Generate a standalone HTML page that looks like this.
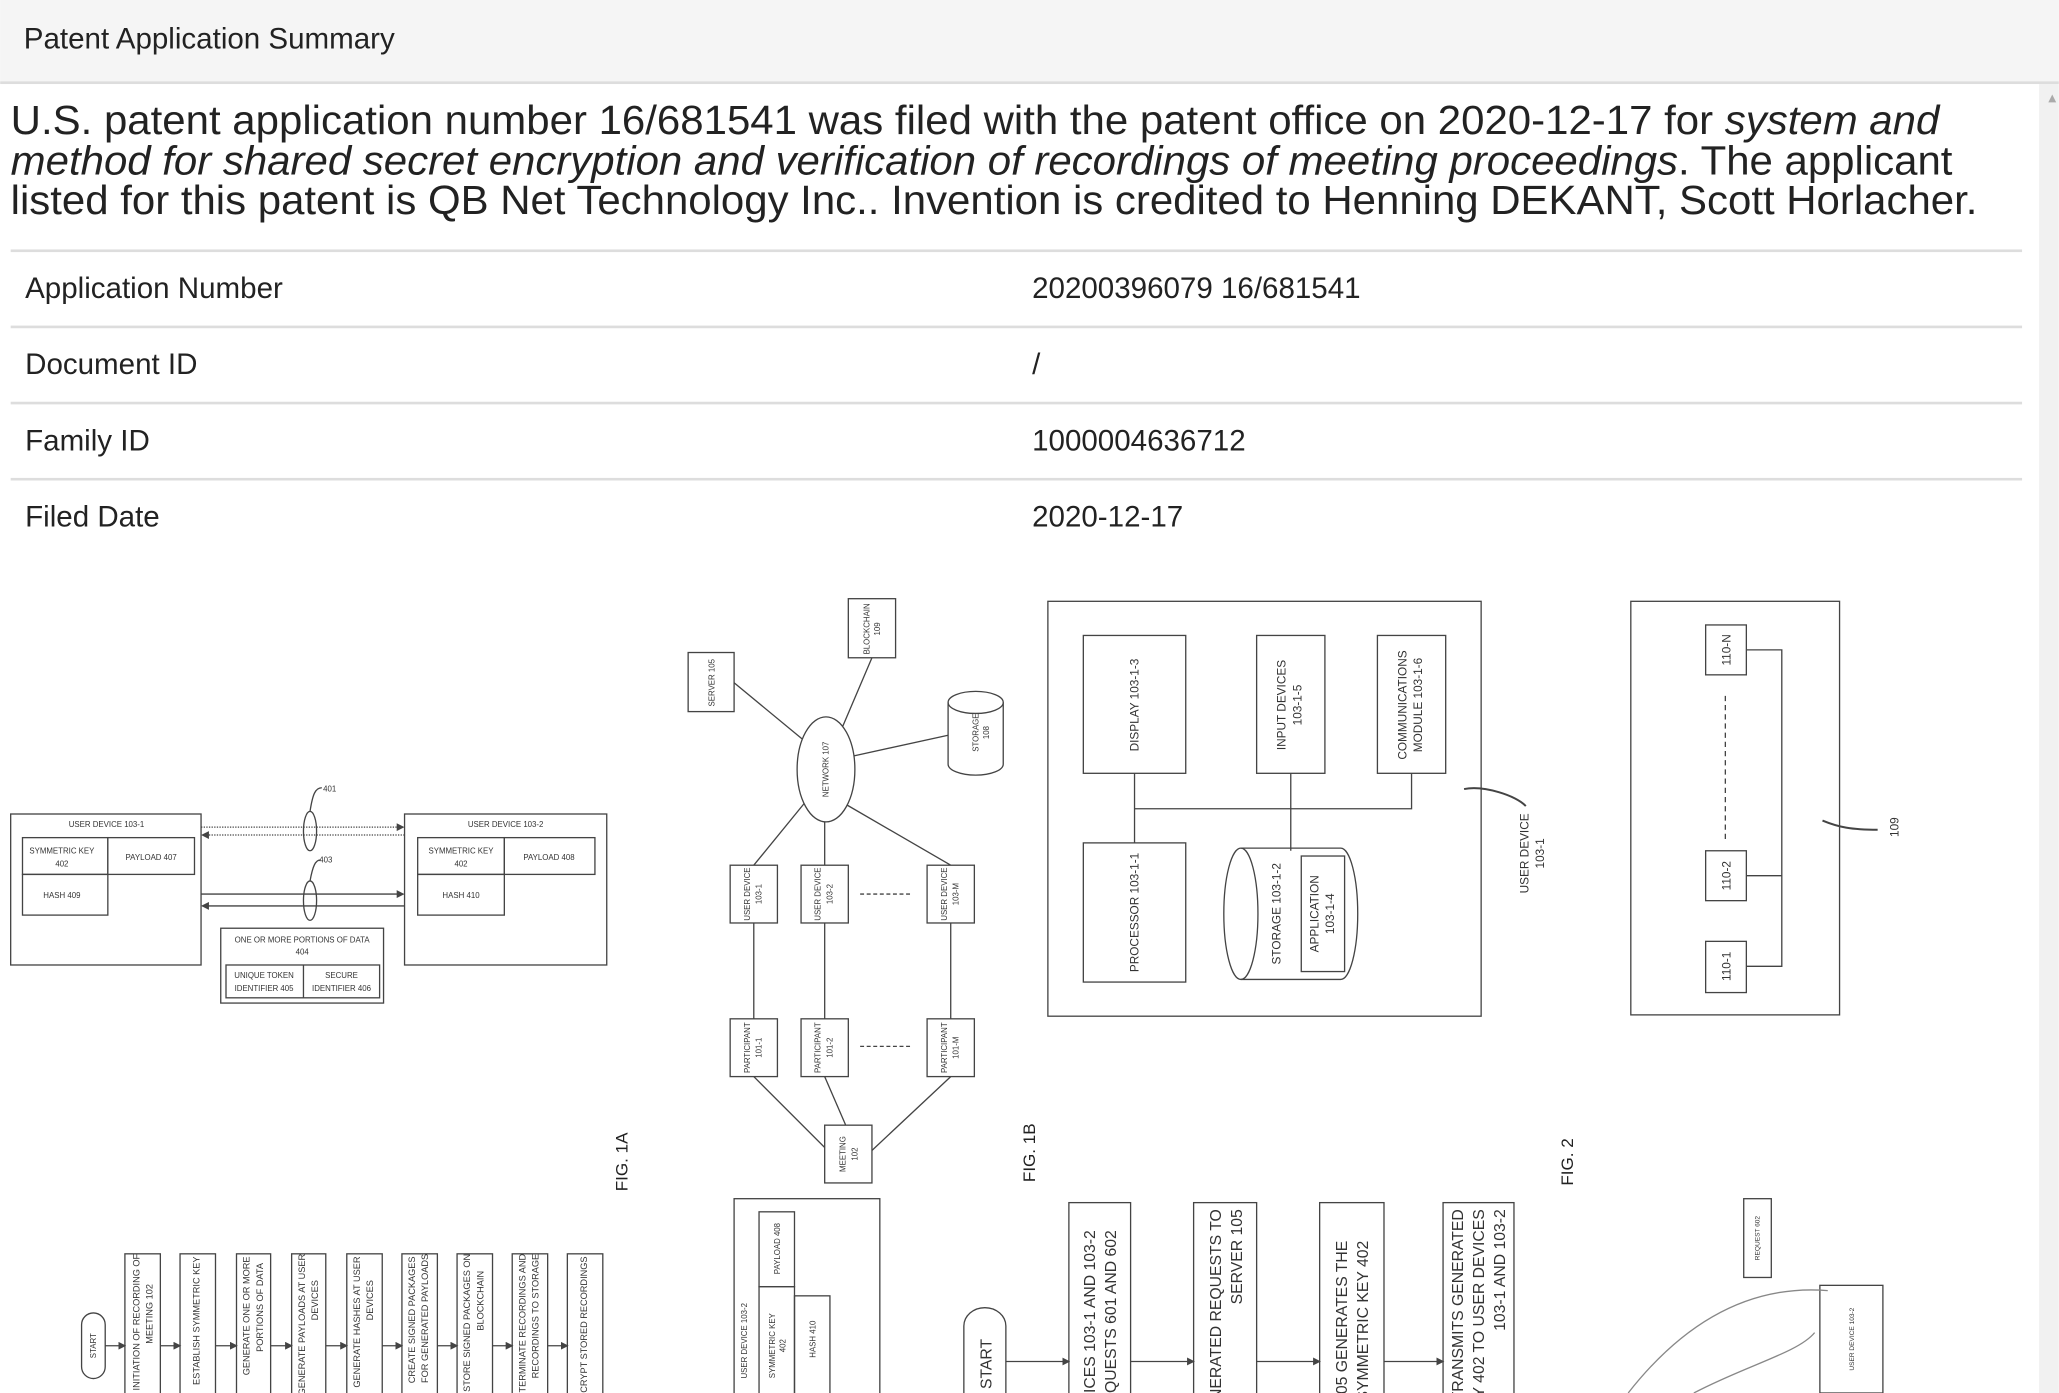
<!DOCTYPE html>
<html><head><meta charset="utf-8"><style>
html,body{margin:0;padding:0;background:#fff;width:2059px;height:1393px;overflow:hidden;position:relative}
svg{display:block;position:absolute;left:0;top:0}
text{font-family:"Liberation Sans",sans-serif;fill:#222}
.d text{fill:#333;font-size:6px}
.d rect,.d ellipse,.d path,.d line{stroke:#444;stroke-width:1;fill:none}
</style></head><body>
<svg width="2059" height="1393" viewBox="0 0 1568 1061" xmlns="http://www.w3.org/2000/svg" overflow="hidden">
<defs><marker id="a" markerWidth="6" markerHeight="6" refX="5" refY="3" orient="auto" markerUnits="userSpaceOnUse"><path d="M0 0 L6 3 L0 6Z" fill="#444"/></marker></defs>
<rect x="0" y="0" width="1568" height="63" fill="#f5f5f5"/>
<rect x="0" y="62" width="1568" height="2" fill="#ddd"/>
<rect x="1553" y="64" width="15" height="997" fill="#f1f1f1"/>
<path d="M1560 78 L1563 72 L1566 78Z" fill="#aaa"/>
<text x="18" y="37" font-size="22.5" fill="#333">Patent Application Summary</text>
<text x="8" y="102" font-size="31" textLength="1469" lengthAdjust="spacingAndGlyphs">U.S. patent application number 16/681541 was filed with the patent office on 2020-12-17 for <tspan font-style="italic">system and</tspan></text>
<text x="8" y="133" font-size="31" textLength="1479" lengthAdjust="spacingAndGlyphs"><tspan font-style="italic">method for shared secret encryption and verification of recordings of meeting proceedings</tspan>. The applicant</text>
<text x="8" y="163" font-size="31" textLength="1498" lengthAdjust="spacingAndGlyphs">listed for this patent is QB Net Technology Inc.. Invention is credited to Henning DEKANT, Scott Horlacher.</text>
<g fill="#ddd"><rect x="8" y="190" width="1532" height="2"/><rect x="8" y="248" width="1532" height="2"/><rect x="8" y="306" width="1532" height="2"/><rect x="8" y="364" width="1532" height="2"/></g>
<g font-size="22.5"><text x="19" y="227">Application Number</text><text x="786" y="227">20200396079 16/681541</text>
<text x="19" y="285">Document ID</text><text x="786" y="285">/</text>
<text x="19" y="343">Family ID</text><text x="786" y="343">1000004636712</text>
<text x="19" y="401">Filed Date</text><text x="786" y="401">2020-12-17</text></g>

<g class="d">
<!-- FIG 1A -->
<rect x="8" y="620" width="145" height="115"/>
<text x="81" y="630" text-anchor="middle">USER DEVICE 103-1</text>
<rect x="17" y="638" width="65" height="28"/><rect x="82" y="638" width="66" height="28"/><rect x="17" y="666" width="65" height="31"/>
<text x="47" y="650" text-anchor="middle">SYMMETRIC KEY</text><text x="47" y="660" text-anchor="middle">402</text>
<text x="115" y="655" text-anchor="middle">PAYLOAD 407</text><text x="47" y="684" text-anchor="middle">HASH 409</text>
<rect x="308" y="620" width="154" height="115"/>
<text x="385" y="630" text-anchor="middle">USER DEVICE 103-2</text>
<rect x="318" y="638" width="66" height="28"/><rect x="384" y="638" width="69" height="28"/><rect x="318" y="666" width="66" height="31"/>
<text x="351" y="650" text-anchor="middle">SYMMETRIC KEY</text><text x="351" y="660" text-anchor="middle">402</text>
<text x="418" y="655" text-anchor="middle">PAYLOAD 408</text><text x="351" y="684" text-anchor="middle">HASH 410</text>
<line x1="153" y1="630" x2="307" y2="630" stroke-dasharray="1 1" marker-end="url(#a)"/><line x1="308" y1="636" x2="154" y2="636" stroke-dasharray="1 1" marker-end="url(#a)"/>
<line x1="153" y1="681" x2="307" y2="681" marker-end="url(#a)"/><line x1="308" y1="690" x2="154" y2="690" marker-end="url(#a)"/>
<ellipse cx="236" cy="633" rx="5" ry="15"/><ellipse cx="236" cy="686" rx="5" ry="15"/>
<path d="M236 618 C238 605 240 600 245 600"/><path d="M236 671 C238 660 240 655 244 655"/>
<text x="246" y="603">401</text><text x="243" y="657">403</text>
<rect x="168" y="707" width="124" height="57"/>
<text x="230" y="718" text-anchor="middle">ONE OR MORE PORTIONS OF DATA</text><text x="230" y="727" text-anchor="middle">404</text>
<rect x="172" y="735" width="117" height="25"/><line x1="231" y1="735" x2="231" y2="760"/>
<text x="201" y="745" text-anchor="middle">UNIQUE TOKEN</text><text x="201" y="755" text-anchor="middle">IDENTIFIER 405</text>
<text x="260" y="745" text-anchor="middle">SECURE</text><text x="260" y="755" text-anchor="middle">IDENTIFIER 406</text>
<text transform="translate(478,885) rotate(-90)" text-anchor="middle" style="font-size:13px;fill:#222">FIG. 1A</text>

<!-- network -->
<g>
<line x1="559" y1="520" x2="611" y2="563"/><line x1="664" y1="501" x2="641" y2="555"/><line x1="649" y1="576" x2="722" y2="560"/>
<line x1="614" y1="610" x2="574" y2="659"/><line x1="628" y1="626" x2="628" y2="659"/><line x1="643" y1="612" x2="724" y2="659"/>
<line x1="574" y1="703" x2="574" y2="776"/><line x1="628" y1="703" x2="628" y2="776"/><line x1="724" y1="703" x2="724" y2="776"/>
<line x1="574" y1="820" x2="634" y2="880"/><line x1="628" y1="820" x2="644" y2="857"/><line x1="724" y1="820" x2="660" y2="880"/>
<line x1="655" y1="681" x2="695" y2="681" stroke-dasharray="3 2"/><line x1="655" y1="797" x2="695" y2="797" stroke-dasharray="3 2"/>
</g>
<rect x="524" y="497" width="35" height="45" style="fill:#fff"/><text transform="translate(544,520) rotate(-90)" text-anchor="middle">SERVER 105</text>
<rect x="646" y="456" width="36" height="45" style="fill:#fff"/><text transform="translate(662,479) rotate(-90)" text-anchor="middle">BLOCKCHAIN</text><text transform="translate(670,479) rotate(-90)" text-anchor="middle">109</text>
<ellipse cx="629" cy="586" rx="22" ry="40" style="fill:#fff"/><text transform="translate(631,586) rotate(-90)" text-anchor="middle">NETWORK 107</text>
<path d="M722 535 A20 8 0 0 1 764 535 L764 582 A20 8 0 0 1 722 582 Z"/><path d="M722 535 A20 8 0 0 0 764 535"/>
<text transform="translate(745,558) rotate(-90)" text-anchor="middle">STORAGE</text><text transform="translate(753,558) rotate(-90)" text-anchor="middle">108</text>
<g>
<rect x="556" y="659" width="36" height="44" style="fill:#fff"/><text transform="translate(571,681) rotate(-90)" text-anchor="middle">USER DEVICE</text><text transform="translate(580,681) rotate(-90)" text-anchor="middle">103-1</text>
<rect x="610" y="659" width="36" height="44" style="fill:#fff"/><text transform="translate(625,681) rotate(-90)" text-anchor="middle">USER DEVICE</text><text transform="translate(634,681) rotate(-90)" text-anchor="middle">103-2</text>
<rect x="706" y="659" width="36" height="44" style="fill:#fff"/><text transform="translate(721,681) rotate(-90)" text-anchor="middle">USER DEVICE</text><text transform="translate(730,681) rotate(-90)" text-anchor="middle">103-M</text>
<rect x="556" y="776" width="36" height="44" style="fill:#fff"/><text transform="translate(571,798) rotate(-90)" text-anchor="middle">PARTICIPANT</text><text transform="translate(580,798) rotate(-90)" text-anchor="middle">101-1</text>
<rect x="610" y="776" width="36" height="44" style="fill:#fff"/><text transform="translate(625,798) rotate(-90)" text-anchor="middle">PARTICIPANT</text><text transform="translate(634,798) rotate(-90)" text-anchor="middle">101-2</text>
<rect x="706" y="776" width="36" height="44" style="fill:#fff"/><text transform="translate(721,798) rotate(-90)" text-anchor="middle">PARTICIPANT</text><text transform="translate(730,798) rotate(-90)" text-anchor="middle">101-M</text>
<rect x="628" y="857" width="36" height="44" style="fill:#fff"/><text transform="translate(644,879) rotate(-90)" text-anchor="middle">MEETING</text><text transform="translate(653,879) rotate(-90)" text-anchor="middle">102</text>
</g>
<text transform="translate(788,878) rotate(-90)" text-anchor="middle" style="font-size:13px;fill:#222">FIG. 1B</text>

<!-- device -->
<rect x="798" y="458" width="330" height="316"/>
<rect x="825" y="484" width="78" height="105"/><text transform="translate(867,537) rotate(-90)" text-anchor="middle" style="font-size:9px">DISPLAY 103-1-3</text>
<rect x="957" y="484" width="52" height="105"/><text transform="translate(979,537) rotate(-90)" text-anchor="middle" style="font-size:9px">INPUT DEVICES</text><text transform="translate(991,537) rotate(-90)" text-anchor="middle" style="font-size:9px">103-1-5</text>
<rect x="1049" y="484" width="52" height="105"/><text transform="translate(1071,537) rotate(-90)" text-anchor="middle" style="font-size:9px">COMMUNICATIONS</text><text transform="translate(1083,537) rotate(-90)" text-anchor="middle" style="font-size:9px">MODULE 103-1-6</text>
<rect x="825" y="642" width="78" height="106"/><text transform="translate(867,695) rotate(-90)" text-anchor="middle" style="font-size:9px">PROCESSOR 103-1-1</text>
<path d="M864 589 V642 M864 616 H1075 V589 M983 589 V648"/>
<path d="M945 646 H1021 A13 50 0 0 1 1021 746 H945 A13 50 0 0 1 945 646 Z"/><path d="M945 646 A13 50 0 0 1 945 746"/>
<text transform="translate(975,696) rotate(-90)" text-anchor="middle" style="font-size:9px">STORAGE 103-1-2</text>
<rect x="991" y="652" width="33" height="88"/><text transform="translate(1004,696) rotate(-90)" text-anchor="middle" style="font-size:9px">APPLICATION</text><text transform="translate(1016,696) rotate(-90)" text-anchor="middle" style="font-size:9px">103-1-4</text>
<path d="M1115 601 C1130 598 1155 606 1162 614" style="stroke-width:1.5"/>
<text transform="translate(1164,650) rotate(-90)" text-anchor="middle" style="font-size:9px">USER DEVICE</text><text transform="translate(1176,650) rotate(-90)" text-anchor="middle" style="font-size:9px">103-1</text>

<!-- FIG 2 box -->
<rect x="1242" y="458" width="159" height="315"/>
<rect x="1299" y="476" width="31" height="38"/><text transform="translate(1318,495) rotate(-90)" text-anchor="middle" style="font-size:9px">110-N</text>
<rect x="1299" y="648" width="31" height="38"/><text transform="translate(1318,667) rotate(-90)" text-anchor="middle" style="font-size:9px">110-2</text>
<rect x="1299" y="717" width="31" height="39"/><text transform="translate(1318,736) rotate(-90)" text-anchor="middle" style="font-size:9px">110-1</text>
<path d="M1330 495 H1357 V736 H1330 M1330 667 H1357"/>
<line x1="1314" y1="530" x2="1314" y2="640" stroke-dasharray="4 3"/>
<path d="M1388 625 C1400 630 1410 632 1430 632" style="stroke-width:1.5"/>
<text transform="translate(1446,630) rotate(-90)" text-anchor="middle" style="font-size:9px">109</text>
<text transform="translate(1198,885) rotate(-90)" text-anchor="middle" style="font-size:13px;fill:#222">FIG. 2</text>

<!-- flow bottom left -->
<rect x="62" y="1000" width="18" height="50" rx="9"/><text transform="translate(73,1025) rotate(-90)" text-anchor="middle">START</text>
<g style="font-size:7px">
<rect x="95" y="955" width="27" height="120"/><text transform="translate(106,955) rotate(-90)" text-anchor="end" style="font-size:7px">INITIATION OF RECORDING OF</text><text transform="translate(116,978) rotate(-90)" text-anchor="end" style="font-size:7px">MEETING 102</text>
<rect x="137" y="955" width="27" height="120"/><text transform="translate(152,957) rotate(-90)" text-anchor="end" style="font-size:7px">ESTABLISH SYMMETRIC KEY</text>
<rect x="180" y="955" width="26" height="120"/><text transform="translate(190,957) rotate(-90)" text-anchor="end" style="font-size:7px">GENERATE ONE OR MORE</text><text transform="translate(200,962) rotate(-90)" text-anchor="end" style="font-size:7px">PORTIONS OF DATA</text>
<rect x="222" y="955" width="26" height="120"/><text transform="translate(232,955) rotate(-90)" text-anchor="end" style="font-size:7px">GENERATE PAYLOADS AT USER</text><text transform="translate(242,975) rotate(-90)" text-anchor="end" style="font-size:7px">DEVICES</text>
<rect x="264" y="955" width="27" height="120"/><text transform="translate(274,957) rotate(-90)" text-anchor="end" style="font-size:7px">GENERATE HASHES AT USER</text><text transform="translate(284,975) rotate(-90)" text-anchor="end" style="font-size:7px">DEVICES</text>
<rect x="306" y="955" width="27" height="120"/><text transform="translate(316,957) rotate(-90)" text-anchor="end" style="font-size:7px">CREATE SIGNED PACKAGES</text><text transform="translate(326,955) rotate(-90)" text-anchor="end" style="font-size:7px">FOR GENERATED PAYLOADS</text>
<rect x="348" y="955" width="27" height="120"/><text transform="translate(358,955) rotate(-90)" text-anchor="end" style="font-size:7px">STORE SIGNED PACKAGES ON</text><text transform="translate(368,968) rotate(-90)" text-anchor="end" style="font-size:7px">BLOCKCHAIN</text>
<rect x="390" y="955" width="27" height="120"/><text transform="translate(400,955) rotate(-90)" text-anchor="end" style="font-size:7px">TERMINATE RECORDINGS AND</text><text transform="translate(410,955) rotate(-90)" text-anchor="end" style="font-size:7px">RECORDINGS TO STORAGE</text>
<rect x="432" y="955" width="27" height="120"/><text transform="translate(447,957) rotate(-90)" text-anchor="end" style="font-size:7px">DECRYPT STORED RECORDINGS</text>
</g>
<g marker-end="url(#a)"><line x1="80" y1="1025" x2="95" y2="1025"/><line x1="122" y1="1025" x2="137" y2="1025"/><line x1="164" y1="1025" x2="180" y2="1025"/><line x1="206" y1="1025" x2="222" y2="1025"/><line x1="248" y1="1025" x2="264" y2="1025"/><line x1="291" y1="1025" x2="306" y2="1025"/><line x1="333" y1="1025" x2="348" y2="1025"/><line x1="375" y1="1025" x2="390" y2="1025"/><line x1="417" y1="1025" x2="432" y2="1025"/></g>

<rect x="559" y="913" width="111" height="160"/>
<rect x="578" y="923" width="27" height="57"/><text transform="translate(594,951) rotate(-90)" text-anchor="middle">PAYLOAD 408</text>
<rect x="578" y="980" width="27" height="90"/><text transform="translate(590,1025) rotate(-90)" text-anchor="middle">SYMMETRIC KEY</text><text transform="translate(598,1025) rotate(-90)" text-anchor="middle">402</text>
<rect x="605" y="987" width="27" height="83"/><text transform="translate(621,1020) rotate(-90)" text-anchor="middle">HASH 410</text>
<text transform="translate(569,1050) rotate(-90)" text-anchor="start">USER DEVICE 103-2</text>

<!-- flow bottom right -->
<path d="M734 1061 V1010 A16 14 0 0 1 766 1010 V1061"/><text transform="translate(755,1058) rotate(-90)" text-anchor="start" style="font-size:12px">START</text>
<g marker-end="url(#a)"><line x1="766" y1="1037" x2="814" y2="1037"/><line x1="861" y1="1037" x2="909" y2="1037"/><line x1="957" y1="1037" x2="1005" y2="1037"/><line x1="1054" y1="1037" x2="1099" y2="1037"/></g>
<rect x="814" y="916" width="47" height="160"/><text transform="translate(834,937) rotate(-90)" text-anchor="end" style="font-size:12px">USER DEVICES 103-1 AND 103-2</text><text transform="translate(850,937) rotate(-90)" text-anchor="end" style="font-size:12px">GENERATE REQUESTS 601 AND 602</text>
<rect x="909" y="916" width="48" height="160"/><text transform="translate(930,921) rotate(-90)" text-anchor="end" style="font-size:12px">TRANSMIT GENERATED REQUESTS TO</text><text transform="translate(946,921) rotate(-90)" text-anchor="end" style="font-size:12px">SERVER 105</text>
<rect x="1005" y="916" width="49" height="160"/><text transform="translate(1026,945) rotate(-90)" text-anchor="end" style="font-size:12px">SERVER 105 GENERATES THE</text><text transform="translate(1042,945) rotate(-90)" text-anchor="end" style="font-size:12px">SYMMETRIC KEY 402</text>
<rect x="1099" y="916" width="54" height="160"/><text transform="translate(1114,921) rotate(-90)" text-anchor="end" style="font-size:12px">SERVER 105 TRANSMITS GENERATED</text><text transform="translate(1130,921) rotate(-90)" text-anchor="end" style="font-size:12px">SYMMETRIC KEY 402 TO USER DEVICES</text><text transform="translate(1146,921) rotate(-90)" text-anchor="end" style="font-size:12px">103-1 AND 103-2</text>
<rect x="1328" y="913" width="21" height="60"/><text transform="translate(1340,943) rotate(-90)" text-anchor="middle" style="font-size:5px">REQUEST 602</text>
<rect x="1386" y="979" width="48" height="82"/><text transform="translate(1412,1020) rotate(-90)" text-anchor="middle" style="font-size:5px">USER DEVICE 103-2</text>
<path d="M1240 1061 C1280 1010 1330 978 1392 983" style="stroke:#888"/><path d="M1290 1061 C1330 1040 1370 1030 1382 1015" style="stroke:#888"/>
</g>
</svg>
</body></html>
